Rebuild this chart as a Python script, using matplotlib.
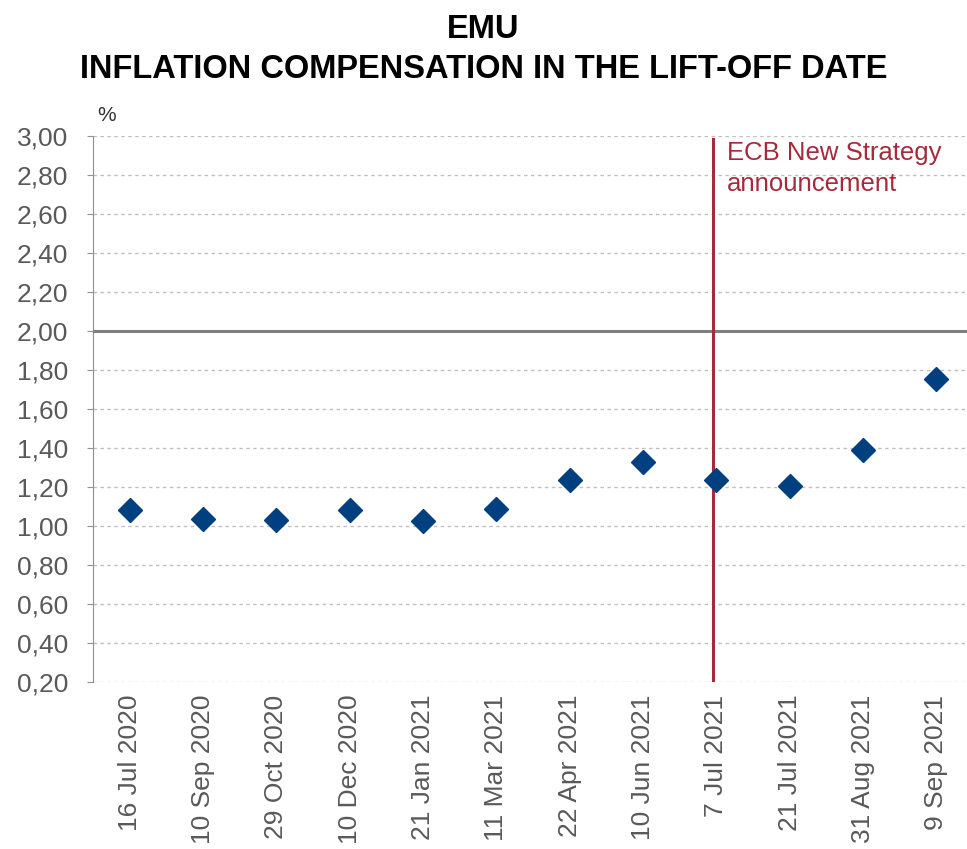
import matplotlib.pyplot as plt

# Lift-off dates and market-implied inflation compensation (%)
dates = ['16 Jul 2020', '10 Sep 2020', '29 Oct 2020', '10 Dec 2020',
         '21 Jan 2021', '11 Mar 2021', '22 Apr 2021', '10 Jun 2021',
         '7 Jul 2021', '21 Jul 2021', '31 Aug 2021', '9 Sep 2021']
inflation = [1.084, 1.036, 1.031, 1.084, 1.024, 1.086,
             1.236, 1.328, 1.236, 1.204, 1.388, 1.752]
y_ticks = [0.2, 0.4, 0.6, 0.8, 1.0, 1.2, 1.4, 1.6, 1.8, 2.0, 2.2, 2.4, 2.6, 2.8, 3.0]
target = 2.0
strategy_date = '7 Jul 2021'

plt.rcParams['font.family'] = ['Liberation Sans', 'DejaVu Sans']

fig = plt.figure(figsize=(9.67, 8.49), dpi=100)
ax = fig.add_axes([0.0962, 0.1967, 0.910, 0.6431])

x = list(range(len(dates)))
ax.plot(x, inflation, linestyle='none', marker='D', markersize=12,
        color='#003F80', zorder=4)

# 2% target line and strategy announcement
xs = dates.index(strategy_date) - 0.05
ax.axhline(target, color='#808080', linewidth=2.2, zorder=3)
ax.axvline(xs, ymax=0.995, color='#A52A3C', linewidth=2.2, zorder=3)
ax.text(xs + 0.2, 2.975, 'ECB New Strategy\nannouncement',
        color='#A52A3C', fontsize=18.5, va='top', ha='left', linespacing=1.35)

ax.set_xlim(-0.5, 11.5)
ax.set_ylim(0.2, 3.0)
ax.set_yticks(y_ticks)
ax.set_yticklabels([f'{v:.2f}'.replace('.', ',') for v in y_ticks])
ax.set_xticks(x)
ax.set_xticklabels(dates, rotation=90)

ax.grid(axis='y', color='#C0C0C0', linestyle=(0, (2.5, 2.5)), linewidth=1)
ax.set_axisbelow(True)
for s in ['top', 'right', 'bottom']:
    ax.spines[s].set_visible(False)
ax.spines['left'].set_color('#909090')
ax.tick_params(axis='y', labelsize=19, labelcolor='#595959', length=4,
               color='#909090', pad=14)
ax.tick_params(axis='x', labelsize=19, labelcolor='#595959', length=0, pad=9)

ax.text(0.005, 1.02, '%', transform=ax.transAxes, fontsize=15, color='#333333',
        ha='left', va='bottom')

fig.suptitle('EMU\nINFLATION COMPENSATION IN THE LIFT-OFF DATE',
             fontsize=23.5, fontweight='bold', x=0.5, y=0.983, va='top',
             linespacing=1.35)

fig.savefig('out.png', dpi=100)
